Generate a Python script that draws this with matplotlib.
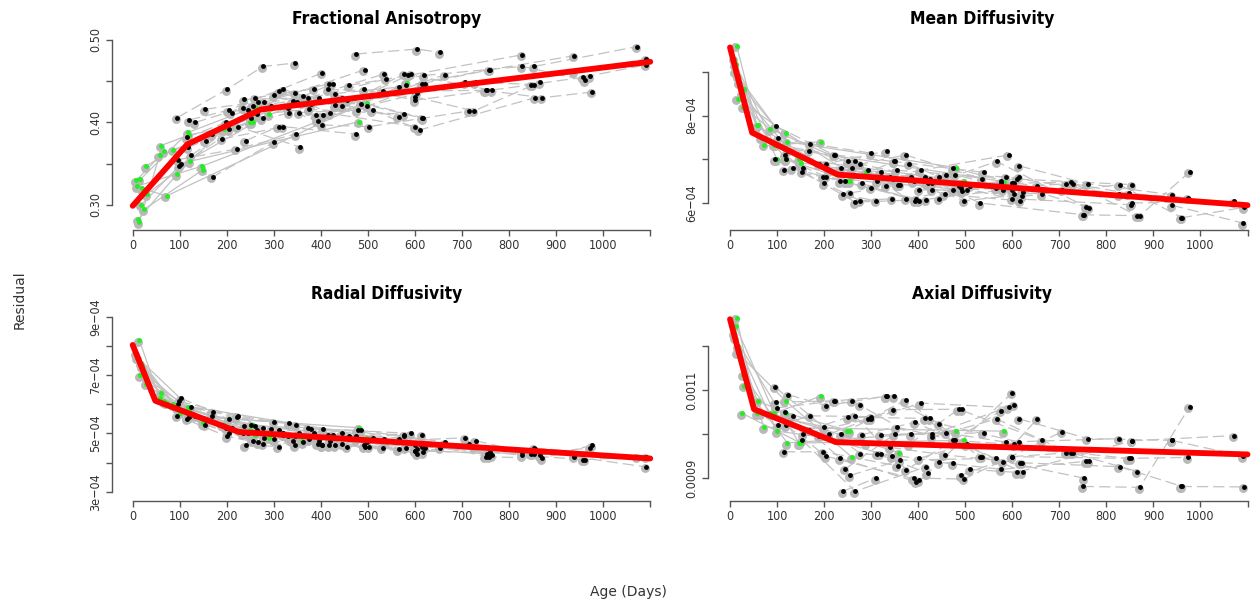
import matplotlib
matplotlib.use("Agg")
import matplotlib.pyplot as plt
from matplotlib.transforms import offset_copy

# ------------------------------------------------------------
# DATA  (ages in days, one list per subject; DTI values)
# MD / RD / AD are given in units of 1e-4
# ------------------------------------------------------------

AGES = [
    [12, 94, 193], [14, 57, 249], [16, 118, 260], [28, 86, 360],
    [30, 122, 481], [10, 147, 497], [20, 72, 582], [18, 100, 290],
    [8, 67], [25, 150], [60, 120, 255],
    [95, 200, 277, 345], [97, 221, 348], [103, 170, 300], [115, 198, 356],
    [120, 204, 402], [133, 234, 395], [154, 266, 417], [168, 251, 425],
    [99, 223, 276], [117, 155, 294], [124, 205, 333], [190, 320, 474],
    [210, 346, 493], [236, 373, 535], [245, 350, 539], [255, 362, 565],
    [265, 375, 577], [280, 393, 580], [300, 405, 592], [312, 420, 600],
    [320, 430, 604], [331, 445, 615], [340, 456, 617], [354, 478, 622],
    [380, 486, 664], [390, 498, 706], [402, 503, 715], [415, 531, 752],
    [430, 567, 757], [445, 577, 764], [460, 586, 827], [474, 604, 653],
    [492, 600, 852], [510, 610, 855], [600, 725, 866], [615, 760, 939],
    [620, 828, 961], [729, 847, 973], [750, 871, 977], [854, 1072],
    [939, 1091], [958, 1092], [240, 310], [260, 385],
]

# first 11 subjects belong to the early-scan (green) group
N_GREEN = 11

FA = [
    [0.283, 0.337, 0.392], [0.279, 0.360, 0.400], [0.331, 0.388, 0.419], [0.347, 0.367, 0.424],
    [0.313, 0.353, 0.401], [0.323, 0.347, 0.424], [0.320, 0.311, 0.448], [0.300, 0.348, 0.410],
    [0.330, 0.365], [0.295, 0.343], [0.372, 0.385, 0.400],
    [0.406, 0.440, 0.468, 0.472], [0.355, 0.368, 0.386], [0.350, 0.334, 0.376], [0.382, 0.400, 0.370],
    [0.403, 0.415, 0.460], [0.400, 0.418, 0.430], [0.416, 0.425, 0.447], [0.386, 0.405, 0.447],
    [0.347, 0.395, 0.405], [0.370, 0.378, 0.420], [0.360, 0.392, 0.412], [0.380, 0.395, 0.386],
    [0.412, 0.436, 0.464], [0.428, 0.430, 0.459], [0.415, 0.425, 0.453], [0.420, 0.432, 0.407],
    [0.410, 0.416, 0.410], [0.425, 0.402, 0.445], [0.433, 0.409, 0.459], [0.438, 0.411, 0.395],
    [0.440, 0.421, 0.436], [0.418, 0.430, 0.406], [0.426, 0.427, 0.405], [0.412, 0.415, 0.447],
    [0.422, 0.423, 0.458], [0.409, 0.420, 0.449], [0.397, 0.395, 0.414], [0.440, 0.438, 0.439],
    [0.435, 0.443, 0.464], [0.420, 0.459, 0.439], [0.445, 0.457, 0.482], [0.483, 0.489, 0.485],
    [0.440, 0.427, 0.446], [0.415, 0.391, 0.430], [0.431, 0.414, 0.449], [0.447, 0.464, 0.481],
    [0.457, 0.468, 0.451], [0.449, 0.446, 0.456], [0.439, 0.430, 0.437], [0.468, 0.492],
    [0.462, 0.477], [0.455, 0.470], [0.378, 0.395], [0.430, 0.441],
]

MD = [
    [9.18, 7.33, 7.40], [9.60, 7.78, 6.50], [8.39, 7.61, 6.65], [8.20, 7.69, 6.42],
    [8.61, 7.40, 6.81], [9.00, 7.00, 6.50], [8.75, 7.33, 6.49], [8.90, 7.00, 6.70],
    [9.30, 7.49], [8.50, 6.91], [7.78, 7.00, 6.50],
    [7.00, 6.45, 6.05, 6.10], [7.76, 7.10, 6.95], [7.48, 7.36, 7.14], [6.76, 6.60, 6.42],
    [7.00, 6.60, 6.05], [6.80, 6.50, 6.10], [6.72, 6.02, 6.08], [7.20, 6.95, 6.55],
    [7.33, 7.10, 6.90], [7.10, 6.80, 6.75], [7.20, 6.90, 7.19], [6.90, 6.60, 6.30],
    [6.75, 6.55, 6.27], [6.80, 7.10, 6.55], [6.50, 6.95, 6.70], [6.23, 6.42, 6.35],
    [6.95, 6.10, 6.45], [6.45, 6.05, 6.30], [6.35, 6.75, 7.10], [6.50, 6.45, 6.30],
    [6.70, 6.30, 6.20], [6.40, 6.60, 6.60], [6.60, 6.20, 6.05], [6.75, 6.65, 6.25],
    [6.90, 6.40, 6.20], [6.50, 6.05, 6.30], [6.30, 6.30, 6.44], [6.60, 6.00, 5.73],
    [6.45, 6.95, 5.91], [6.10, 6.50, 5.89], [6.65, 6.60, 6.20], [6.80, 6.45, 6.40],
    [6.35, 6.10, 5.96], [6.40, 6.55, 6.42], [6.45, 6.48, 5.71], [6.85, 6.44, 6.19],
    [6.15, 6.42, 5.66], [6.44, 6.22, 6.12], [5.73, 5.71, 6.71], [6.00, 6.04],
    [5.95, 5.54], [5.66, 5.90], [6.20, 6.05], [6.80, 6.60],
]

RD = [
    [7.60, 5.90, 5.30], [8.20, 6.20, 5.10], [7.00, 5.90, 4.95], [6.70, 6.00, 4.75],
    [6.80, 5.60, 5.19], [7.60, 5.50, 4.85], [7.30, 6.05, 4.70], [7.40, 5.70, 4.85],
    [7.75, 6.10], [7.10, 5.35], [6.40, 5.80, 5.30],
    [5.60, 4.90, 4.65, 4.60], [6.00, 5.55, 5.30], [6.20, 5.75, 5.40], [5.50, 5.20, 4.95],
    [5.55, 5.00, 4.60], [5.60, 5.00, 4.75], [5.30, 4.70, 4.60], [5.60, 5.30, 4.95],
    [6.10, 5.60, 5.20], [5.70, 5.45, 5.15], [5.90, 5.50, 5.35], [5.30, 5.00, 4.90],
    [5.20, 4.90, 4.55], [5.25, 5.20, 4.80], [5.00, 4.95, 4.75], [4.75, 4.70, 4.45],
    [5.10, 4.80, 4.95], [4.85, 4.65, 4.50], [4.80, 5.15, 5.00], [5.10, 4.75, 4.60],
    [4.95, 4.60, 4.45], [4.90, 5.00, 4.95], [4.75, 4.55, 4.35], [5.00, 5.10, 4.50],
    [5.15, 5.10, 4.70], [4.90, 4.70, 4.85], [4.60, 4.55, 4.65], [4.95, 4.50, 4.30],
    [4.85, 4.80, 4.20], [4.65, 4.90, 4.25], [4.90, 4.70, 4.35], [4.80, 4.30, 4.50],
    [4.60, 4.40, 4.30], [4.85, 4.65, 4.45], [4.40, 4.55, 4.25], [4.55, 4.35, 4.25],
    [4.60, 4.25, 4.10], [4.75, 4.30, 4.50], [4.20, 4.15, 4.60], [4.50, 4.20],
    [4.20, 3.85], [4.10, 4.20], [4.60, 4.55], [5.25, 5.00],
]

AD = [
    [12.47, 10.48, 10.87], [12.66, 10.48, 10.07], [11.86, 10.76, 9.47], [11.35, 10.48, 9.58],
    [11.10, 9.80, 10.07], [12.20, 9.80, 9.86], [11.90, 10.16, 10.07], [12.00, 10.07, 9.80],
    [12.30, 10.48], [10.48, 9.80], [10.76, 10.48, 10.07],
    [11.08, 10.16, 9.56, 9.50], [10.73, 10.76, 10.87], [10.20, 10.42, 10.40], [9.60, 9.60, 9.28],
    [10.20, 9.50, 8.95], [10.42, 9.45, 8.92], [9.86, 8.70, 9.26], [10.10, 10.39, 10.36],
    [10.60, 10.76, 10.67], [10.50, 10.00, 10.35], [10.90, 10.65, 10.87], [9.96, 9.56, 9.34],
    [10.00, 10.56, 10.57], [10.00, 10.78, 9.49], [9.21, 10.00, 10.03], [9.06, 9.41, 9.45],
    [10.42, 9.19, 10.54], [9.99, 10.27, 9.37], [10.35, 10.71, 10.61], [9.56, 9.11, 10.95],
    [9.99, 10.00, 10.67], [10.87, 10.24, 9.82], [9.70, 9.53, 9.35], [10.16, 9.86, 9.13],
    [9.77, 10.57, 9.86], [9.00, 8.98, 10.06], [9.45, 9.77, 9.58], [10.36, 9.49, 9.00],
    [9.94, 10.35, 9.39], [9.36, 9.20, 9.39], [10.03, 9.82, 9.90], [9.86, 9.77, 10.35],
    [9.07, 9.49, 9.45], [9.20, 9.13, 9.85], [9.49, 9.58, 9.15], [10.35, 9.90, 9.86],
    [9.35, 9.26, 8.81], [9.58, 9.45, 9.47], [8.81, 8.79, 10.63], [9.85, 9.97],
    [9.86, 9.50], [8.81, 8.80], [8.70, 9.00], [10.76, 10.00],
]

# piecewise linear fits (red)
FA_FIT_AGE = [0, 116, 272, 1100]
FA_FIT = [0.299, 0.3735, 0.4157, 0.4736]
MD_FIT_AGE = [0, 47, 229, 1100]
MD_FIT = [9.56, 7.61, 6.65, 5.95]
RD_FIT_AGE = [0, 48, 225, 1100]
RD_FIT = [8.03, 6.12, 5.05, 4.14]
AD_FIT_AGE = [0, 51, 225, 1100]
AD_FIT = [12.62, 10.57, 9.82, 9.54]

X_TICKS = list(range(0, 1101, 100))
X_LABELS = [str(t) for t in range(0, 1001, 100)] + [""]


# ------------------------------------------------------------
# LAYOUT (pixels)
# ------------------------------------------------------------

W, H = 1256, 608
DPI = 100

GRAY = "#c2c2c2"
AXC = "#555555"
GREEN = "#22ee22"


def rect(x0, x1, ytop, ybot):
    return [x0 / W, 1 - ybot / H, (x1 - x0) / W, (ybot - ytop) / H]


panels = [
    dict(title="Fractional Anisotropy", data=FA, scale=1.0,
         fit=(FA_FIT_AGE, FA_FIT), rect=rect(112, 662, 30, 229.5),
         xlim=(-44, 1125), ylim=(0.2703, 0.5121),
         yticks=[0.30, 0.35, 0.40, 0.45, 0.50],
         ylabels=["0.30", "", "0.40", "", "0.50"]),
    dict(title="Mean Diffusivity", data=MD, scale=1e-4,
         fit=(MD_FIT_AGE, MD_FIT), rect=rect(708, 1256, 30, 229.5),
         xlim=(-46.8, 1118), ylim=(5.394e-4, 9.959e-4),
         yticks=[6e-4, 7e-4, 8e-4, 9e-4],
         ylabels=["6e\u221204", "", "8e\u221204", ""]),
    dict(title="Radial Diffusivity", data=RD, scale=1e-4,
         fit=(RD_FIT_AGE, RD_FIT), rect=rect(112, 662, 305, 500.5),
         xlim=(-44, 1125), ylim=(2.70e-4, 9.40e-4),
         yticks=[3e-4, 4e-4, 5e-4, 6e-4, 7e-4, 8e-4, 9e-4],
         ylabels=["3e\u221204", "", "5e\u221204", "", "7e\u221204", "", "9e\u221204"]),
    dict(title="Axial Diffusivity", data=AD, scale=1e-4,
         fit=(AD_FIT_AGE, AD_FIT), rect=rect(708, 1256, 305, 500.5),
         xlim=(-46.8, 1118), ylim=(8.49e-4, 12.945e-4),
         yticks=[9e-4, 10e-4, 11e-4, 12e-4],
         ylabels=["0.0009", "", "0.0011", ""]),
]


# ------------------------------------------------------------
# PLOT
# ------------------------------------------------------------

fig = plt.figure(figsize=(W / DPI, H / DPI), dpi=DPI)

for p in panels:
    ax = fig.add_axes(p["rect"])
    s = p["scale"]
    shadow = offset_copy(ax.transData, fig=fig, x=-1.2, y=-1.5, units="dots")

    # subject trajectories
    for i, (ages, vals) in enumerate(zip(AGES, p["data"])):
        y = [v * s for v in vals]
        ls = "-" if i < N_GREEN else (0, (9, 4))
        ax.plot(ages, y, color=GRAY, lw=0.9, ls=ls, zorder=1)

    # points
    for i, (ages, vals) in enumerate(zip(AGES, p["data"])):
        y = [v * s for v in vals]
        col = GREEN if i < N_GREEN else "black"
        ax.plot(ages, y, ls="none", marker="o", ms=6.4, mfc="#b8b8b8", mec="none",
                transform=shadow, zorder=2)
        ax.plot(ages, y, ls="none", marker="o", ms=3.5, mfc=col, mec="none", zorder=3)

    fa, fv = p["fit"]
    ax.plot(fa, [v * s for v in fv], color="red", lw=4.2, zorder=4,
            solid_capstyle="round")

    ax.set_xlim(*p["xlim"])
    ax.set_ylim(*p["ylim"])

    for side in ["top", "right"]:
        ax.spines[side].set_visible(False)
    for side in ["left", "bottom"]:
        ax.spines[side].set_color(AXC)
        ax.spines[side].set_linewidth(1.0)
    ax.spines["bottom"].set_bounds(0, 1100)
    ax.spines["left"].set_bounds(p["yticks"][0], p["yticks"][-1])

    ax.set_xticks(X_TICKS)
    ax.set_xticklabels(X_LABELS)
    ax.set_yticks(p["yticks"])
    ax.set_yticklabels(p["ylabels"], rotation=90, va="center")
    ax.tick_params(direction="out", length=4.5, width=1.0, color=AXC,
                   labelcolor="#333333", labelsize=9, pad=2.5)
    for lab in ax.get_xticklabels() + ax.get_yticklabels():
        lab.set_fontstretch("condensed")

    ax.set_title(p["title"], fontsize=12.5, fontweight="bold", pad=4,
                 fontstretch="condensed")

fig.text(20 / W, 1 - 300 / H, "Residual", rotation=90, ha="center", va="center",
         fontsize=10, color="#333333")
fig.text(628 / W, 1 - 592 / H, "Age (Days)", ha="center", va="center",
         fontsize=10, color="#333333")

fig.savefig("out.png", dpi=DPI)
